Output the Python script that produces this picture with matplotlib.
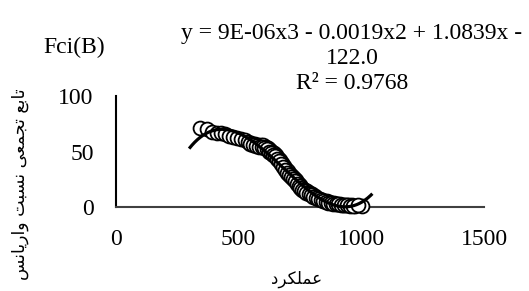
import numpy as np
import matplotlib
matplotlib.use("Agg")
import matplotlib.pyplot as plt

# data
perf = [342, 372, 390, 410, 428, 445, 462, 478, 495, 510, 525, 540, 552, 565,
        578, 590, 600, 610, 620, 628, 636, 644, 652, 660, 668, 676, 684, 692,
        700, 708, 716, 724, 732, 740, 748, 756, 764, 772, 780, 790, 800, 810,
        820, 830, 840, 850, 860, 870, 880, 890, 900, 912, 924, 936, 948, 960,
        975, 1003,
        548, 560, 572, 584, 596, 605, 615, 624, 632, 640, 648, 656, 664, 672,
        680, 688, 696, 704, 712, 720, 728, 736, 744, 752, 760, 768, 776, 785,
        795, 805, 815, 825, 835, 845, 855, 865, 875, 885, 895, 905, 918, 930,
        942, 954, 968, 985]
fci = [71, 70, 68, 67, 67, 66, 64, 63, 62, 61, 60, 59, 58, 57,
       56, 55.5, 55.5, 54.5, 53, 51.5, 50, 48.5, 46.5, 44.5, 42, 39.5, 37, 34.5,
       32, 30, 28, 26, 24, 22, 20, 18, 16.5, 15, 14, 13, 11.5, 10,
       8.5, 7.5, 6.5, 5.5, 5, 4.5, 4, 3.5, 3, 2.5, 2, 2, 1.5, 1.5,
       1, 1,
       57, 56, 55, 54, 54, 53, 52, 50, 49, 47, 45.5, 43.5, 41, 38.5,
       36, 33.5, 31, 29, 27, 25, 23, 21, 19, 17, 15.5, 14, 12.5, 11.5,
       10.5, 9, 8, 7, 6, 5, 4.5, 4, 3.5, 3, 2.5, 2.5, 2, 1.5,
       1.5, 1, 1, 1.5]
trend_from, trend_to = 298, 1045

x_ticks = [0, 500, 1000, 1500]
y_ticks = [0, 50, 100]
title = "Fci(B)"
equation = "y = 9E-06x3 - 0.0019x2 + 1.0839x -\n122.0\nR\u00b2 = 0.9768"
x_label = "عملکرد"
y_label = "تابع تجمعی نسبت واریانس"

# minimal arabic/persian shaping (matplotlib has no shaping of its own)
FORMS = {
    'ا': (0xFE8D, 0xFE8E, None, None),
    'ب': (0xFE8F, 0xFE90, 0xFE91, 0xFE92),
    'ت': (0xFE95, 0xFE96, 0xFE97, 0xFE98),
    'ج': (0xFE9D, 0xFE9E, 0xFE9F, 0xFEA0),
    'د': (0xFEA9, 0xFEAA, None, None),
    'ر': (0xFEAD, 0xFEAE, None, None),
    'س': (0xFEB1, 0xFEB2, 0xFEB3, 0xFEB4),
    'ع': (0xFEC9, 0xFECA, 0xFECB, 0xFECC),
    'ک': (0xFB8E, 0xFB8F, 0xFB90, 0xFB91),
    'ل': (0xFEDD, 0xFEDE, 0xFEDF, 0xFEE0),
    'م': (0xFEE1, 0xFEE2, 0xFEE3, 0xFEE4),
    'ن': (0xFEE5, 0xFEE6, 0xFEE7, 0xFEE8),
    'و': (0xFEED, 0xFEEE, None, None),
    'ی': (0xFBFC, 0xFBFD, 0xFBFE, 0xFBFF),
}


def shape(s):
    out = []
    for i, c in enumerate(s):
        if c not in FORMS:
            out.append(c)
            continue
        prev = s[i - 1] if i > 0 else ' '
        nxt = s[i + 1] if i < len(s) - 1 else ' '
        f = FORMS[c]
        join_prev = prev in FORMS and FORMS[prev][2] is not None
        join_next = nxt in FORMS and f[2] is not None
        if join_prev and join_next:
            code = f[3]
        elif join_prev:
            code = f[1]
        elif join_next:
            code = f[2]
        else:
            code = f[0]
        out.append(chr(code))
    return ''.join(out)[::-1]


plt.rcParams['font.family'] = ['Liberation Serif', 'DejaVu Sans']

fig = plt.figure(figsize=(5.29, 2.91), dpi=100)
ax = fig.add_axes([116 / 529, 1 - 207 / 291, (484 - 116) / 529, (207 - 96) / 291])

ax.scatter(perf, fci, s=100, facecolors='white', edgecolors='black',
           linewidths=1.3, zorder=3, clip_on=False)

coef = np.polyfit(perf, fci, 3)
xs = np.linspace(trend_from, trend_to, 200)
ax.plot(xs, np.polyval(coef, xs), color='black', lw=2.3, zorder=4,
        solid_capstyle='butt', clip_on=False)

ax.set_xlim(0, 1500)
ax.set_ylim(0, 100)
ax.set_xticks(x_ticks)
ax.set_yticks(y_ticks)
ax.tick_params(length=0, labelsize=17)
ax.tick_params(axis='x', pad=16)
ax.tick_params(axis='y', pad=16)
for side in ['top', 'right']:
    ax.spines[side].set_visible(False)
ax.spines['left'].set_linewidth(1.5)
ax.spines['bottom'].set_linewidth(1.5)
ax.spines['bottom'].set_color('#404040')

fig.text(74 / 529, 1 - 47 / 291, title, ha='center', va='center', fontsize=17)
fig.text(352 / 529, 1 - 59 / 291, equation, ha='center', va='center',
         fontsize=17, linespacing=1.25)
fig.text(297 / 529, 1 - 279 / 291, shape(x_label), ha='center', va='center',
         fontsize=12, family=['DejaVu Sans'])
fig.text(20 / 529, 1 - 184 / 291, shape(y_label), ha='center', va='center',
         rotation=90, fontsize=12.5, family=['DejaVu Sans'])

fig.savefig('out.png', dpi=100)
